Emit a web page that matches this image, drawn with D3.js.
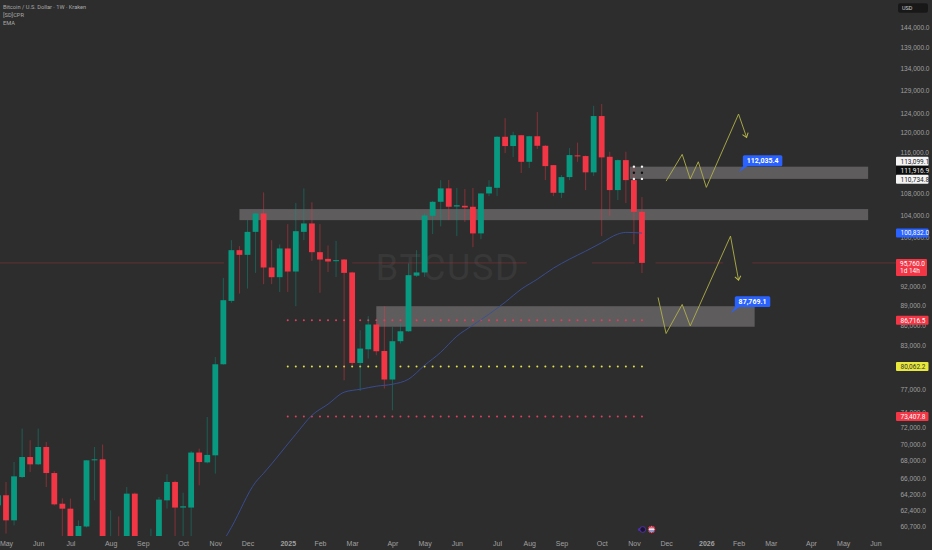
<!DOCTYPE html>
<html>
<head>
<meta charset="utf-8">
<title>BTCUSD 1W</title>
<script src="https://cdn.jsdelivr.net/npm/d3@7"></script>
<style>
    html, body { margin: 0; padding: 0; background: #2d2d2d; }
    svg { display: block; font-family: Roboto, "Open Sans", sans-serif; }
</style>
</head>
<body>
<div id="chart"></div>
<script>
// Weekly candles, index 0 = first week of May 2024, last one = week of 10 Nov 2025
const firstIndex = -1;
const opens = [62965, 64070, 61350, 66120, 68450, 67590, 69650, 66580, 63140, 62600, 57000, 60700, 68060, 68180, 58000, 58900, 58400, 64250, 57500, 59000, 59300, 63510, 65560, 62720, 62720, 68980, 67820, 68650, 80360, 89670, 97890, 97100, 101040, 104310, 95000, 93420, 98180, 94340, 101040, 102520, 97550, 96430, 96040, 96320, 94190, 80540, 82470, 86080, 82230, 78270, 83630, 85080, 93670, 94190, 103880, 106430, 108930, 105570, 105700, 105520, 100770, 107980, 109040, 119100, 117200, 119420, 114050, 119210, 117260, 113400, 108100, 111080, 115330, 115190, 111990, 123450, 115050, 108610, 114390, 110500, 104600];
const highs = [64620, 65560, 67860, 71900, 70460, 71900, 70250, 66800, 63730, 63700, 61350, 68100, 69650, 69940, 62420, 61770, 64990, 64360, 59500, 60480, 63880, 66430, 65700, 64360, 69170, 69450, 73360, 81380, 93310, 99600, 98570, 103110, 104400, 108180, 99600, 98860, 102400, 106240, 108930, 106330, 102400, 98680, 99480, 96400, 94300, 85230, 87330, 86470, 88850, 85720, 86270, 95670, 97890, 104310, 106600, 110500, 110500, 109000, 108800, 109000, 108000, 110500, 119200, 123000, 120130, 119500, 119300, 124300, 117400, 113410, 111470, 116800, 117900, 115300, 125660, 126050, 116050, 114500, 116050, 113200, 107300];
const lows = [62400, 59960, 60820, 66000, 66700, 67500, 64990, 62950, 58000, 53500, 55000, 60600, 63510, 57000, 49500, 56000, 57700, 57100, 57000, 57500, 58500, 62610, 59000, 59000, 58900, 65180, 67700, 66510, 80300, 89370, 90810, 91610, 94120, 92300, 92300, 91070, 91070, 88850, 99600, 96090, 90930, 94280, 93460, 78170, 80080, 76740, 81160, 81620, 77060, 74210, 83290, 85000, 93460, 93460, 100660, 102000, 103110, 100300, 102800, 98400, 99770, 107480, 107480, 115780, 114990, 111860, 112820, 116590, 110500, 107480, 107110, 110500, 114050, 108610, 111300, 100300, 103880, 106740, 106190, 98900, 94100];
const closes = [64065, 61350, 66200, 68450, 67590, 69650, 66580, 63070, 62600, 56800, 60750, 68060, 68180, 58000, 58900, 58200, 64250, 58000, 59000, 59300, 63590, 65560, 62720, 62860, 68980, 67860, 68700, 80360, 89780, 97890, 97100, 101040, 104310, 95000, 93420, 98180, 94340, 101160, 102520, 97550, 96320, 95990, 96210, 94120, 80540, 82570, 86080, 82190, 78270, 83630, 85080, 93750, 94190, 103950, 106430, 108930, 105520, 105800, 105400, 100770, 107980, 109230, 119100, 117200, 119420, 114050, 119210, 117260, 113210, 108100, 111080, 115390, 115130, 111990, 123450, 114930, 108610, 114390, 110500, 104600, 95760];

// Time axis: first full week of each month
const monthTickIndex = [0, 4, 8, 13, 17, 22, 26, 30, 35, 39, 43, 48, 52, 56, 61, 65, 69, 74, 78, 82, 87, 91, 95, 100, 104, 108];
const monthTickLabels = ['May', 'Jun', 'Jul', 'Aug', 'Sep', 'Oct', 'Nov', 'Dec', '2025', 'Feb', 'Mar', 'Apr', 'May', 'Jun', 'Jul', 'Aug', 'Sep', 'Oct', 'Nov', 'Dec', '2026', 'Feb', 'Mar', 'Apr', 'May', 'Jun'];

// Price axis, 112,000 / 96,000 / 80,000 sit fully behind the tags so they are left out
const priceTicks = [144000, 139000, 134000, 129000, 124000, 120000, 116000, 108000, 104000, 100000, 92000, 89000, 86000, 83000, 77000, 74000, 72000, 70000, 68000, 66000, 64200, 62400, 60700];

// EMA, read every other candle
const emaIndex = [26, 28, 31, 32, 36, 38, 40, 42, 44, 46, 48, 50, 52, 54, 56, 58, 60, 62, 64, 66, 68, 70, 72, 74, 76, 77, 79];
const emaValues = [57800, 60610, 65530, 66550, 71200, 73570, 75000, 76570, 76960, 77370, 77630, 78310, 80220, 82040, 84350, 85980, 87630, 89460, 91500, 93100, 94890, 96380, 97720, 99170, 100650, 100950, 100832];

// Grey zones: [start index, end index, upper price, lower price]
const zones = [
    [29, 107.1, 105100, 103110],
    [77.5, 107.1, 113099.1, 110734.8],
    [46, 93, 88850, 85750]
];

// CPR levels
const cprLevels = [86716.5, 80062.2, 73407.8];
const cprColors = ['#e0405f', '#e4e44a', '#e0405f'];
const cprStart = 35;
const cprEnd = 79;
const weeklyLevels = [113099.1, 111916.9, 110734.8];

// Drawn projection paths
const pathUpIndex = [82, 84, 85, 86, 87, 91, 92];
const pathUpPrice = [110310, 115530, 110690, 114060, 109120, 123870, 118980];
const pathDownIndex = [81, 82, 84, 85, 90, 91];
const pathDownPrice = [90200, 84750, 89120, 85870, 100300, 92940];

// Red last price line, it breaks in a few places in the screenshot
const priceLineParts = [[-1, 27.1], [43, 64.7], [72.8, 78.1], [80.7, 89.1], [92.7, 110.6]];
const lastPrice = 95760;

const width = 932;
const height = 550;
const paneRight = 896;
const paneBottom = 536;

const green = '#089981';
const red = '#f23645';
const blue = '#2962ff';
const axisText = '#a0a0a0';

const svg = d3.select('#chart').append('svg')
    .attr('width', width)
    .attr('height', height)
    .attr('viewBox', `0 0 ${width} ${height}`);

svg.append('rect').attr('width', width).attr('height', height).attr('fill', '#2d2d2d');

const x = d3.scaleLinear().domain([0, 108]).range([6, 875.4]);
const y = d3.scaleLog().domain([60700, 144000]).range([526.5, 27]);

const defs = svg.append('defs');
defs.append('clipPath').attr('id', 'pane').append('rect')
    .attr('width', paneRight).attr('height', paneBottom);
defs.append('marker')
    .attr('id', 'arrow')
    .attr('markerUnits', 'userSpaceOnUse')
    .attr('markerWidth', 8).attr('markerHeight', 8)
    .attr('refX', 5).attr('refY', 4)
    .attr('orient', 'auto')
    .append('path')
    .attr('d', 'M1,1 L5,4 L1,7')
    .attr('fill', 'none')
    .attr('stroke', '#b9ba4c')
    .attr('stroke-width', 1);

const pane = svg.append('g').attr('clip-path', 'url(#pane)');

// Watermark
pane.append('text')
    .attr('x', 448).attr('y', 280)
    .attr('text-anchor', 'middle')
    .attr('font-size', 36)
    .attr('letter-spacing', 1.6)
    .attr('fill', '#383838')
    .text('BTCUSD');

// Zones
pane.selectAll('.zone').data(zones).enter().append('rect')
    .attr('class', 'zone')
    .attr('x', d => x(d[0]))
    .attr('width', d => x(d[1]) - x(d[0]))
    .attr('y', d => y(d[2]))
    .attr('height', d => y(d[3]) - y(d[2]))
    .attr('fill', '#5f5c5e');

// Last price line
pane.selectAll('.price-line').data(priceLineParts).enter().append('line')
    .attr('class', 'price-line')
    .attr('x1', d => x(d[0]))
    .attr('x2', d => x(d[1]))
    .attr('y1', y(lastPrice))
    .attr('y2', y(lastPrice))
    .attr('stroke', red)
    .attr('stroke-opacity', 0.4)
    .attr('stroke-width', 0.7);

// CPR dots
const cprSteps = d3.range(cprStart, cprEnd + 1);
cprLevels.forEach((level, k) => {
    pane.append('g').selectAll('circle').data(cprSteps).enter().append('circle')
        .attr('cx', d => x(d))
        .attr('cy', y(level))
        .attr('r', 1)
        .attr('fill', cprColors[k]);
});

// Candles
const candles = opens.map((o, i) => ({ i: i + firstIndex, o, h: highs[i], l: lows[i], c: closes[i] }));
const candle = pane.selectAll('.candle').data(candles).enter().append('g').attr('class', 'candle');
candle.append('line')
    .attr('x1', d => x(d.i))
    .attr('x2', d => x(d.i))
    .attr('y1', d => y(d.h))
    .attr('y2', d => y(d.l))
    .attr('stroke', d => d.c >= d.o ? green : red)
    .attr('stroke-opacity', 0.5)
    .attr('stroke-width', 0.9);
candle.append('rect')
    .attr('x', d => x(d.i) - 2.9)
    .attr('width', 5.8)
    .attr('y', d => y(Math.max(d.o, d.c)))
    .attr('height', d => Math.max(1, Math.abs(y(d.o) - y(d.c))))
    .attr('fill', d => d.c >= d.o ? green : red);

// EMA
const emaLine = d3.line().x(d => x(d[0])).y(d => y(d[1])).curve(d3.curveMonotoneX);
pane.append('path')
    .attr('d', emaLine(emaIndex.map((d, i) => [d, emaValues[i]])))
    .attr('fill', 'none')
    .attr('stroke', '#3a4f98')
    .attr('stroke-width', 0.9);

// Weekly level dots on the last two candles
[78, 79].forEach(idx => {
    weeklyLevels.forEach((level, k) => {
        pane.append('circle')
            .attr('cx', x(idx))
            .attr('cy', y(level))
            .attr('r', 1.2)
            .attr('fill', k === 1 ? '#111' : '#f2f2f2');
    });
});

// Projection paths
const projLine = d3.line().x(d => x(d[0])).y(d => y(d[1]));
[[pathUpIndex, pathUpPrice], [pathDownIndex, pathDownPrice]].forEach(([idx, prices]) => {
    pane.append('path')
        .attr('d', projLine(idx.map((d, i) => [d, prices[i]])))
        .attr('fill', 'none')
        .attr('stroke', '#b0b148')
        .attr('stroke-width', 0.9)
        .attr('marker-end', 'url(#arrow)');
});

// Blue callouts, the tip sits on the labelled price
const callouts = [
    { label: '112,035.4', tipIndex: 91, tipPrice: 112035.4, w: 39.5, h: 11 },
    { label: '87,769.1', tipIndex: 90, tipPrice: 87769.1, w: 35.5, h: 10.8 }
];
callouts.forEach(c => {
    const tx = x(c.tipIndex);
    const ty = y(c.tipPrice);
    const bx = tx + 4.3;
    const by = ty - 17;
    pane.append('path')
        .attr('d', `M${tx},${ty} L${bx + 1},${by + c.h - 1} L${bx + 6},${by + c.h - 1} Z`)
        .attr('fill', blue);
    pane.append('rect')
        .attr('x', bx).attr('y', by)
        .attr('width', c.w).attr('height', c.h)
        .attr('rx', 1.5)
        .attr('fill', blue);
    pane.append('text')
        .attr('x', bx + c.w / 2).attr('y', by + c.h / 2 + 2.6)
        .attr('text-anchor', 'middle')
        .attr('font-size', 7)
        .attr('font-weight', 700)
        .attr('fill', '#fff')
        .text(c.label);
});

// Legend
const legend = ['Bitcoin / U.S. Dollar · 1W · Kraken', '[SD]CPR', 'EMA'];
svg.append('g').selectAll('text').data(legend).enter().append('text')
    .attr('x', 3)
    .attr('y', (d, i) => 9.2 + i * 7.8)
    .attr('font-size', 5.7)
    .attr('fill', '#a9a9a9')
    .text(d => d);

// Axes
const xAxis = d3.axisBottom(x)
    .tickValues(monthTickIndex)
    .tickSize(0)
    .tickPadding(5)
    .tickFormat((d, i) => monthTickLabels[i]);
const xG = svg.append('g').attr('transform', `translate(0,${paneBottom})`).call(xAxis);
xG.select('.domain').remove();
xG.selectAll('text')
    .attr('font-size', 7)
    .attr('fill', axisText)
    .attr('font-weight', d => d === 35 || d === 87 ? 700 : 400);

const yAxis = d3.axisRight(y)
    .tickValues(priceTicks)
    .tickSize(0)
    .tickPadding(0)
    .tickFormat(d3.format(',.1f'));
const yG = svg.append('g').attr('transform', 'translate(900.5,0)').call(yAxis);
yG.select('.domain').remove();
yG.selectAll('text')
    .attr('font-size', 6.5)
    .attr('fill', axisText);

// Price tags on the axis, the three weekly levels are pushed apart so they can be read
const tagText = ['113,099.1', '111,916.9', '110,734.8', '100,832.0', '86,716.5', '80,062.2', '73,407.8'];
const tagPrices = [113099.1, 111916.9, 110734.8, 100832, 86716.5, 80062.2, 73407.8];
const tagShift = [-5.5, -2.6, 0.3, 0, 0, 0, 0];
const tagFill = ['#f4f4f4', '#0c0c0c', '#f4f4f4', blue, red, '#e8e83c', red];
const tagInk = ['#222', '#eee', '#222', '#fff', '#fff', '#333', '#fff'];
tagText.forEach((t, k) => {
    const cy = y(tagPrices[k]) + tagShift[k];
    svg.append('rect')
        .attr('x', 896).attr('y', cy - 4.5)
        .attr('width', 32.5).attr('height', 9)
        .attr('rx', 1)
        .attr('fill', tagFill[k]);
    svg.append('text')
        .attr('x', 900.5).attr('y', cy + 2.4)
        .attr('font-size', 6.5)
        .attr('fill', tagInk[k])
        .text(t);
});

// Last price tag with countdown
svg.append('rect')
    .attr('x', 896).attr('y', y(lastPrice) - 4)
    .attr('width', 31).attr('height', 17)
    .attr('rx', 1)
    .attr('fill', red);
svg.append('text')
    .attr('x', 900).attr('y', y(lastPrice) + 3)
    .attr('font-size', 6.5)
    .attr('fill', '#fff')
    .text('95,760.0');
svg.append('text')
    .attr('x', 900).attr('y', y(lastPrice) + 10.5)
    .attr('font-size', 6.5)
    .attr('fill', '#fff')
    .text('1d 14h');

// Currency box
svg.append('rect')
    .attr('x', 898).attr('y', 3.3)
    .attr('width', 30).attr('height', 9.5)
    .attr('rx', 2)
    .attr('fill', '#181818');
svg.append('text')
    .attr('x', 902).attr('y', 10)
    .attr('font-size', 5.5)
    .attr('fill', '#cfcfcf')
    .text('USD');

// Event icons near the time axis
const events = svg.append('g').attr('transform', `translate(0,529.5)`);
events.append('circle').attr('cx', x(78.7)).attr('r', 1.6).attr('fill', '#4a2fb0');
events.append('circle').attr('cx', x(79.1)).attr('r', 2.9).attr('fill', '#1d1530').attr('stroke', '#5a35c0').attr('stroke-width', 0.8);
events.append('circle').attr('cx', x(80.2)).attr('r', 3.4).attr('fill', '#e8e8f0').attr('stroke', '#b82035').attr('stroke-width', 1);
events.append('rect').attr('x', x(80.2) - 3).attr('y', -2.2).attr('width', 6).attr('height', 1).attr('fill', '#d83045');
events.append('rect').attr('x', x(80.2) - 3).attr('y', 1).attr('width', 6).attr('height', 1).attr('fill', '#3a4aa0');
</script>
</body>
</html>
